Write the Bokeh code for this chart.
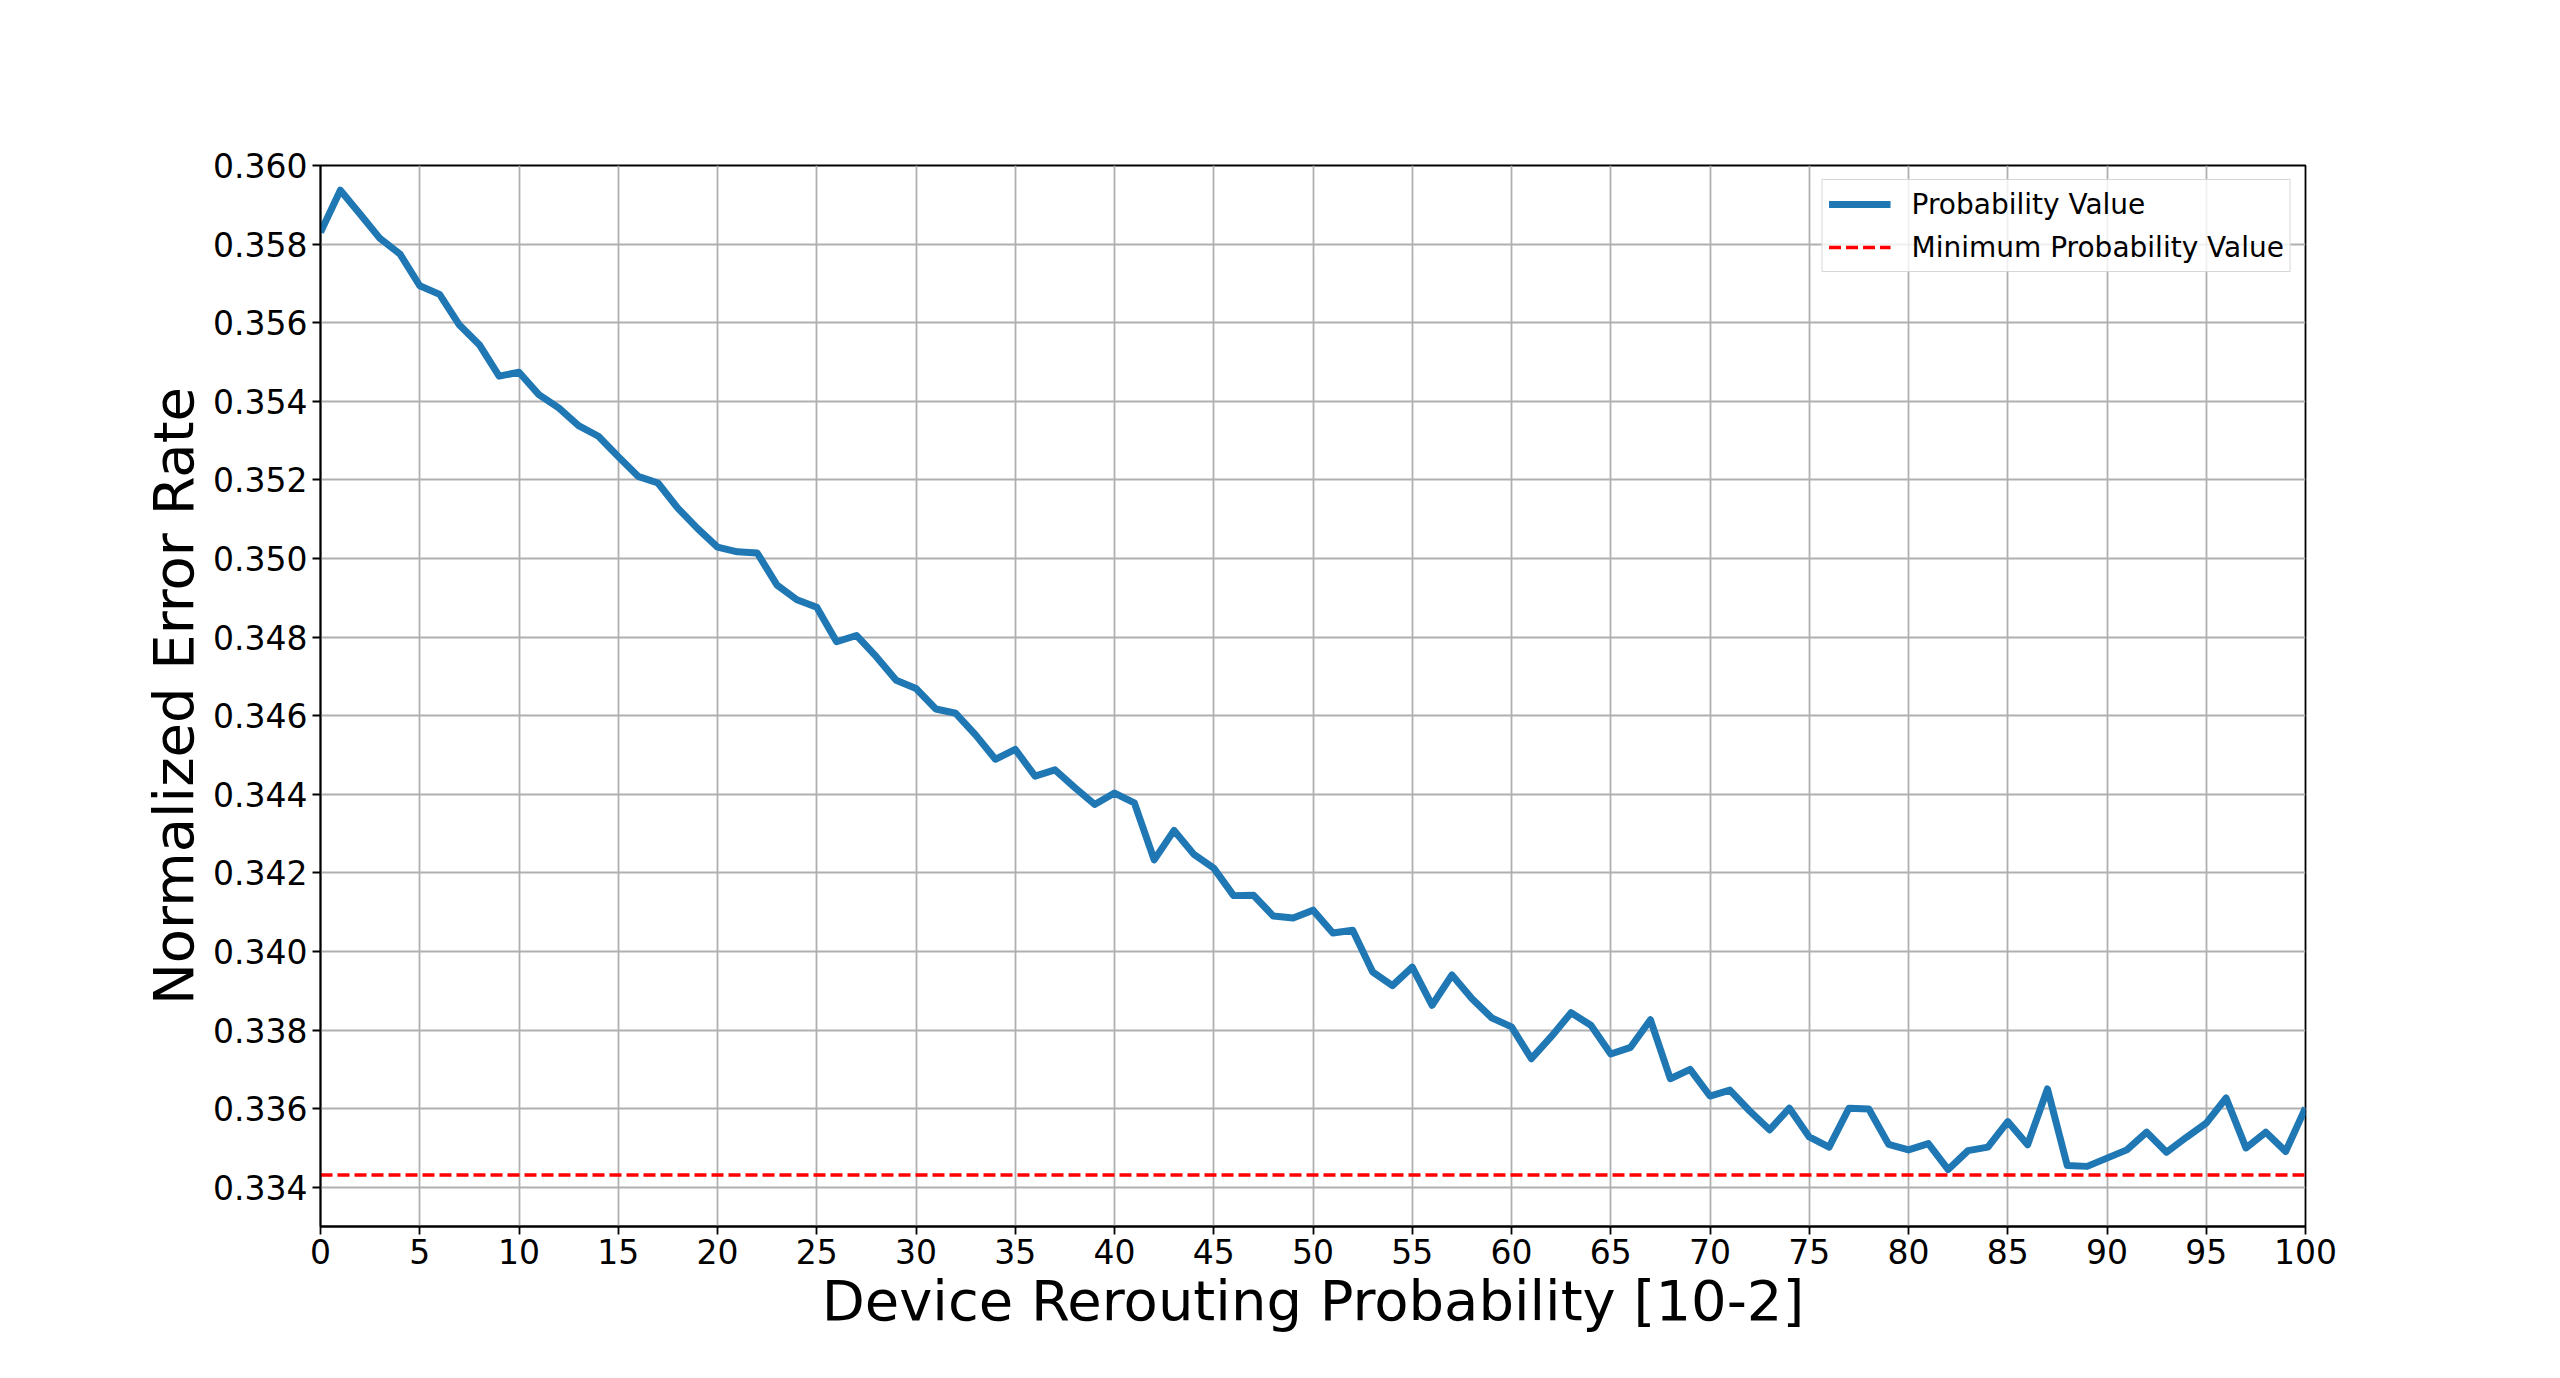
from bokeh.plotting import figure
from bokeh.models import Range1d, FixedTicker, PrintfTickFormatter, Legend, LegendItem
from bokeh.embed import file_html
from bokeh.resources import INLINE

# ---- data ----
rerouting_prob = list(range(0, 101))
error_rate = [
    0.35830, 0.35937, 0.35876, 0.35814, 0.35775, 0.35694, 0.35672, 0.35594, 0.35544, 0.35464,
    0.35474, 0.35417, 0.35383, 0.35338, 0.35311, 0.35259, 0.35209, 0.35192, 0.35128, 0.35076,
    0.35029, 0.35017, 0.35014, 0.34932, 0.34895, 0.34876, 0.34788, 0.34804, 0.34750, 0.34690,
    0.34669, 0.34617, 0.34606, 0.34551, 0.34489, 0.34514, 0.34446, 0.34462, 0.34417, 0.34374,
    0.34403, 0.34378, 0.34233, 0.34308, 0.34247, 0.34212, 0.34142, 0.34143, 0.34090, 0.34085,
    0.34105, 0.34047, 0.34054, 0.33948, 0.33913, 0.33960, 0.33863, 0.33940, 0.33880, 0.33831,
    0.33808, 0.33727, 0.33783, 0.33844, 0.33812, 0.33739, 0.33756, 0.33826, 0.33676, 0.33700,
    0.33632, 0.33647, 0.33594, 0.33546, 0.33601, 0.33528, 0.33502, 0.33601, 0.33599, 0.33509,
    0.33495, 0.33511, 0.33445, 0.33493, 0.33502, 0.33567, 0.33508, 0.33650, 0.33455, 0.33453,
    0.33474, 0.33495, 0.33540, 0.33489, 0.33527, 0.33563, 0.33627, 0.33500, 0.33540, 0.33491,
    0.33602,
]
min_prob_value = 0.33431
x_ticks = list(range(0, 101, 5))
y_ticks = [0.334, 0.336, 0.338, 0.340, 0.342, 0.344, 0.346, 0.348, 0.350,
           0.352, 0.354, 0.356, 0.358, 0.360]
x_label = "Device Rerouting Probability [10-2]"
y_label = "Normalized Error Rate"
series_labels = ["Probability Value", "Minimum Probability Value"]

FONT = "DejaVu Sans"

p = figure(width=2544, height=1362, output_backend="svg", toolbar_location=None,
           x_range=Range1d(0, 100), y_range=Range1d(0.333, 0.360),
           min_border_left=320, min_border_right=239, min_border_top=165,
           min_border_bottom=136)

p.background_fill_color = "white"
p.border_fill_color = "white"
p.outline_line_color = "black"
p.outline_line_width = 1.8

p.grid.grid_line_color = "#b0b0b0"
p.grid.grid_line_width = 1.8

p.xaxis.ticker = FixedTicker(ticks=x_ticks)
p.yaxis.ticker = FixedTicker(ticks=y_ticks)
p.yaxis.formatter = PrintfTickFormatter(format="%.3f")
p.xaxis.formatter = PrintfTickFormatter(format="%d")

for ax in (p.xaxis, p.yaxis):
    ax.axis_line_color = "black"
    ax.axis_line_width = 1.8
    ax.major_tick_line_color = "black"
    ax.major_tick_line_width = 1.8
    ax.major_tick_out = 8
    ax.major_tick_in = 0
    ax.minor_tick_line_color = None
    ax.major_label_text_font = FONT
    ax.major_label_text_font_size = "33px"
    ax.major_label_text_color = "black"
    ax.axis_label_text_font = FONT
    ax.axis_label_text_font_size = "56px"
    ax.axis_label_text_font_style = "normal"
    ax.axis_label_text_color = "black"

p.xaxis.axis_label = x_label
p.yaxis.axis_label = y_label
p.xaxis.major_label_standoff = 4
p.yaxis.major_label_standoff = 5
p.xaxis.axis_label_standoff = 1
p.yaxis.axis_label_standoff = 4

r_main = p.line(rerouting_prob, error_rate, line_color="#1f77b4", line_width=7,
                line_join="round")
r_min = p.line([rerouting_prob[0], rerouting_prob[-1]], [min_prob_value, min_prob_value],
               line_color="red", line_width=3.3, line_dash="12 5")

legend = Legend(items=[LegendItem(label=series_labels[0], renderers=[r_main]),
                       LegendItem(label=series_labels[1], renderers=[r_min])],
                location="top_right", margin=14, padding=6, spacing=7,
                glyph_width=62, glyph_height=36, label_standoff=21,
                label_text_font=FONT, label_text_font_size="28px",
                label_text_color="black",
                background_fill_color="white", background_fill_alpha=0.8,
                border_line_color="#cccccc", border_line_width=1.8,
                border_line_alpha=0.8)
p.add_layout(legend, "center")

open("out.html", "w").write(file_html(p, INLINE))
